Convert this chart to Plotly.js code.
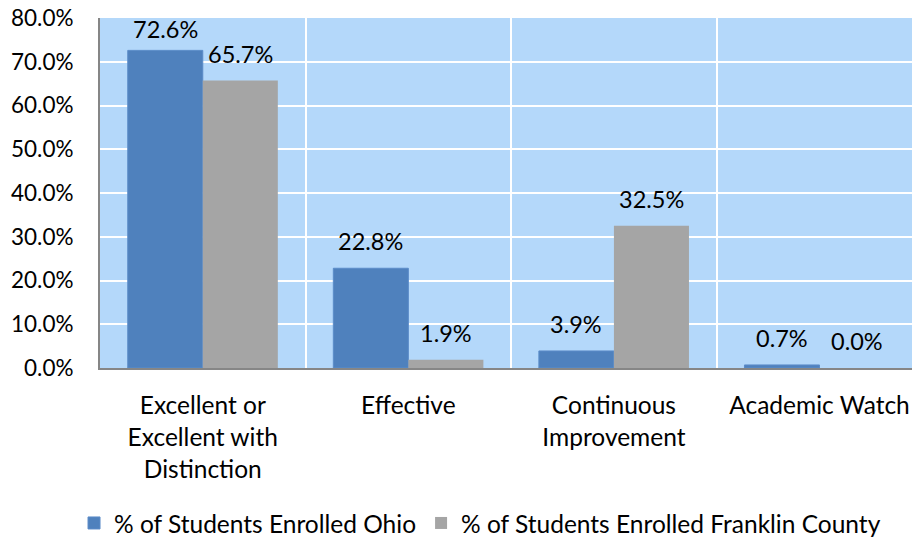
<!DOCTYPE html>
<html>
<head>
<meta charset="utf-8">
<script src="https://cdn.plot.ly/plotly-3.0.1.min.js"></script>
<style>html,body{margin:0;padding:0;background:#fff;}#chart{width:912px;height:537px;}</style>
</head>
<body>
<div id="chart"></div>
<script>
var categories = ["Excellent or<br>Excellent with<br>Distinction", "Effective", "Continuous<br>Improvement", "Academic Watch"];
var ohioValues = [0.726, 0.228, 0.039, 0.007];
var franklinValues = [0.657, 0.019, 0.325, 0.000];
var seriesNames = ["% of Students Enrolled Ohio", "% of Students Enrolled Franklin County"];

var FONT = "Lato, 'Liberation Sans', sans-serif";
var traces = [
  {type: "bar", name: seriesNames[0], x: categories, y: ohioValues,
   marker: {color: "#4F81BD", line: {color: "#5B8CC8", width: 1}}, hoverinfo: "none"},
  {type: "bar", name: seriesNames[1], x: categories, y: franklinValues,
   marker: {color: "#A5A5A5", line: {color: "#A5A5A5", width: 0}}, hoverinfo: "none"}
];

var annotations = [];
function addLabels(vals, shift) {
  vals.forEach(function (v, i) {
    annotations.push({
      x: categories[i], y: v, xref: "x", yref: "y",
      text: (v * 100).toFixed(1) + "%", showarrow: false,
      xshift: shift, yshift: v > 0.7 ? 21 : 27, yanchor: "middle",
      font: {family: FONT, size: 23.5, color: "#000"}
    });
  });
}
addLabels(ohioValues, -37.5);
addLabels(franklinValues, 37.5);

var layout = {
  width: 912, height: 537,
  margin: {l: 100, r: 0, t: 18, b: 169, pad: 0, autoexpand: false},
  paper_bgcolor: "#ffffff",
  plot_bgcolor: "#B4D8FA",
  barmode: "group",
  bargap: 0.27,
  bargroupgap: 0,
  font: {family: FONT, size: 24, color: "#000"},
  xaxis: {
    type: "category", range: [-0.5, 3.45], automargin: false,
    tickson: "boundaries", showgrid: true, gridcolor: "#ffffff", gridwidth: 2,
    showline: true, linecolor: "#868686", linewidth: 2,
    ticks: "", ticklabelstandoff: 15,
    tickfont: {family: FONT, size: 24.5, color: "#000"}, fixedrange: true
  },
  yaxis: {
    range: [0, 0.8], dtick: 0.1, tickformat: ".1%", automargin: false,
    showgrid: true, gridcolor: "#ffffff", gridwidth: 2, zeroline: false,
    showline: true, linecolor: "#868686", linewidth: 2,
    ticks: "outside", ticklen: 20, tickcolor: "rgba(0,0,0,0)",
    tickfont: {family: FONT, size: 22.5, color: "#000"}, fixedrange: true
  },
  showlegend: true,
  legend: {orientation: "h", xref: "paper", x: 0.468, xanchor: "center",
           yref: "container", y: 0.026, yanchor: "middle",
           font: {family: FONT, size: 24.5, color: "#000"}, itemwidth: 30, traceorder: "normal"},
  annotations: annotations
};

Plotly.newPlot("chart", traces, layout, {displayModeBar: false, staticPlot: true});
</script>
</body>
</html>
